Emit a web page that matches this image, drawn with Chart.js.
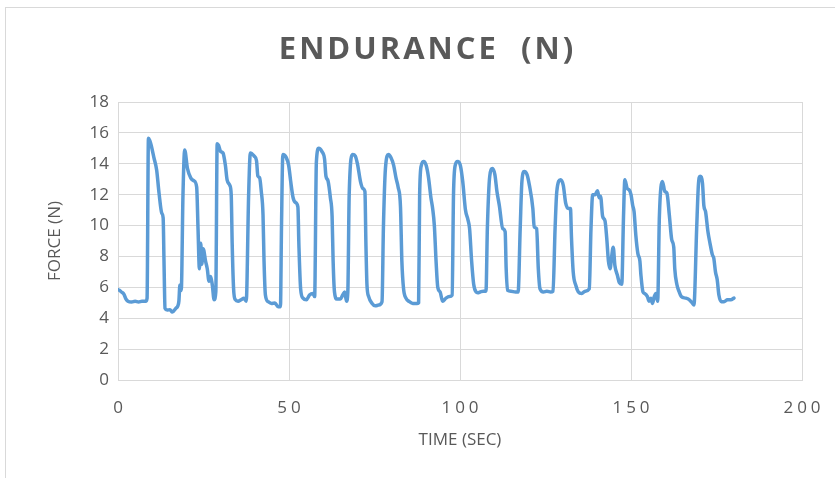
<!DOCTYPE html>
<html>
<head>
<meta charset="utf-8">
<script src="https://cdn.jsdelivr.net/npm/chart.js@4/dist/chart.umd.min.js"></script>
<style>
  html, body { margin: 0; padding: 0; background: #ffffff; }
  #c { display: block; }
</style>
</head>
<body>
<canvas id="c" width="835" height="478"></canvas>
<script>
// ---- data ----
const chartTitle = "ENDURANCE  (N)";
const xAxisTitle = "TIME (SEC)";
const yAxisTitle = "FORCE (N)";
const xTicks = [0, 50, 100, 150, 200];
const yTicks = [0, 2, 4, 6, 8, 10, 12, 14, 16, 18];

const timeSec = [
  0.0, 0.3, 1.0, 1.75, 2.3, 2.9, 4.0, 5.0, 6.0, 7.0, 8.1, 8.5,
  8.9, 9.3, 9.7, 10.5, 11.3, 12.0, 12.8, 13.2, 13.45, 13.75, 14.4, 15.2, 15.9, 16.9, 17.5, 17.8, 18.1, 18.5,
  19.0, 19.5, 20.3, 21.3, 22.2, 23.0, 23.4, 23.8, 24.2, 24.5, 24.9, 25.6, 26.1, 26.6, 27.1, 27.6, 28.1, 28.6,
  29.0, 29.4, 30.0, 30.7, 31.4, 31.9, 32.7, 33.1, 33.4, 33.8, 34.3, 35.1, 36.0, 36.8, 37.5,
  38.2, 38.7, 39.8, 40.5, 40.9, 41.4, 41.9, 42.4, 42.7, 43.1, 43.9, 44.9, 45.9, 46.8, 47.5,
  47.8, 48.2, 49.2, 49.9, 50.5, 51.2, 51.9, 52.6, 52.9, 53.4, 54.1, 55.1, 56.0, 57.0, 57.5,
  58.0, 58.7, 59.6, 60.4, 60.8, 61.4, 62.1, 62.6, 62.9, 63.3, 64.0, 65.0, 65.7, 66.3, 66.8, 67.2,
  67.6, 68.6, 69.4, 70.1, 70.9, 71.6, 72.2, 72.5, 72.8, 73.3, 74.3, 75.2, 76.2, 77.2,
  77.6, 78.2, 79.1, 79.8, 80.6, 81.3, 81.9, 82.6, 83.0, 83.5, 84.2, 85.2, 86.2, 87.4, 87.9,
  88.2, 88.7, 89.4, 90.1, 90.8, 91.5, 92.0, 92.5, 93.0, 93.5, 94.2, 94.9, 95.9, 96.9, 97.7,
  98.1, 98.6, 99.3, 100.1, 100.8, 101.6, 102.3, 102.8, 103.4, 104.0, 104.7, 105.2, 105.9, 106.8, 107.6,
  108.0, 108.7, 109.5, 110.2, 110.8, 111.5, 112.5, 113.2, 113.5, 113.9, 114.9, 116.2, 117.0,
  117.6, 118.1, 118.8, 119.6, 120.3, 121.3, 121.7, 122.4, 122.9, 123.4, 124.4, 125.4, 126.5, 127.2,
  127.8, 128.3, 129.4, 130.2, 130.9, 131.7, 132.3, 132.6, 133.1, 133.9, 134.6, 135.6, 136.6, 137.8,
  138.3, 138.8, 139.5, 140.2, 140.7, 141.1, 141.7, 142.4, 142.9, 143.4, 143.9, 144.3, 144.8, 145.3, 146.0, 146.6, 147.3,
  147.8, 148.2, 148.9, 149.5, 150.0, 150.5, 150.9, 151.4, 152.0, 152.6, 152.9, 153.5, 154.0, 154.8, 155.3, 155.8, 156.3, 156.8, 157.3, 157.8,
  158.3, 159.2, 159.9, 160.5, 161.2, 161.9, 162.5, 162.8, 163.4, 164.1, 164.7, 166.0, 167.0, 168.0, 168.4,
  169.2, 169.7, 170.2, 170.9, 171.3, 171.8, 172.5, 173.1, 173.8, 174.2, 174.7, 175.2, 175.7, 176.4, 177.2, 178.2, 179.2, 180.1
];

const forceN = [
  5.85, 5.82, 5.7, 5.55, 5.25, 5.1, 5.05, 5.1, 5.05, 5.1, 5.1, 5.3,
  15.66, 15.5, 15.2, 14.4, 13.6, 12.1, 10.8, 10.5, 7.7, 4.64, 4.53, 4.55, 4.4, 4.64, 4.8, 5.1, 6.15, 5.8,
  12.0, 14.9, 13.7, 13.07, 12.9, 12.5, 9.8, 7.2, 8.85, 7.5, 8.5, 7.7, 7.2, 6.4, 6.7, 6.1, 5.2, 5.7,
  15.3, 15.2, 14.8, 14.7, 13.9, 12.96, 12.6, 12.0, 8.7, 5.9, 5.2, 5.1, 5.2, 5.3, 5.1,
  12.0, 14.7, 14.5, 14.2, 13.2, 13.1, 12.2, 10.7, 7.7, 5.5, 5.07, 4.96, 4.98, 4.75, 4.75,
  9.8, 14.6, 14.4, 13.9, 12.85, 11.8, 11.5, 11.2, 8.7, 5.9, 5.3, 5.2, 5.5, 5.6, 5.4,
  14.1, 15.0, 14.8, 14.3, 13.2, 12.9, 11.8, 10.6, 7.7, 5.7, 5.24, 5.24, 5.5, 5.7, 5.1, 5.7,
  12.0, 14.6, 14.5, 13.9, 12.85, 12.4, 12.2, 8.7, 6.15, 5.4, 4.96, 4.8, 4.85, 5.07,
  9.8, 13.7, 14.6, 14.4, 13.9, 13.07, 12.5, 11.2, 7.7, 5.9, 5.3, 5.07, 4.96, 4.96, 5.0,
  12.0, 13.9, 14.15, 13.9, 13.1, 11.8, 11.1, 10.0, 7.7, 6.0, 5.7, 5.1, 5.3, 5.4, 5.5,
  12.0, 13.9, 14.15, 13.9, 12.85, 11.0, 10.4, 9.8, 7.7, 6.2, 5.7, 5.65, 5.7, 5.75, 5.75,
  9.8, 13.2, 13.7, 13.3, 12.2, 11.3, 9.8, 9.6, 7.2, 5.8, 5.75, 5.7, 5.7,
  9.8, 12.85, 13.5, 13.3, 12.6, 11.1, 9.9, 9.8, 7.2, 5.9, 5.7, 5.75, 5.7, 5.75,
  9.8, 12.2, 12.96, 12.6, 11.45, 11.1, 11.1, 9.2, 7.0, 6.1, 5.7, 5.6, 5.75, 5.9,
  9.8, 12.0, 12.0, 12.25, 11.8, 11.9, 10.6, 10.3, 9.2, 7.7, 7.2, 7.9, 8.6, 7.4, 6.8, 6.3, 6.2,
  10.5, 12.96, 12.4, 12.3, 12.0, 11.3, 10.9, 9.4, 8.2, 7.7, 6.8, 5.7, 5.6, 5.4, 5.1, 5.3, 4.96, 5.4, 5.6, 5.1,
  10.6, 12.85, 12.2, 12.1, 10.7, 9.1, 8.6, 7.2, 6.2, 5.7, 5.4, 5.3, 5.2, 4.96, 4.85,
  9.8, 12.6, 13.2, 12.75, 11.3, 10.9, 9.6, 8.85, 8.1, 7.9, 7.0, 6.5, 5.5, 5.07, 5.07, 5.2, 5.2, 5.3
];

// ---- presentation ----
const textGray = '#595959';
const gridGray = '#d9d9d9';
const lineBlue = '#5b9bd5';

const points = timeSec.map((t, i) => ({ x: t, y: forceN[i] }));

const decoPlugin = {
  id: 'deco',
  beforeDraw(chart) {
    const c = chart.ctx;
    c.save();
    c.fillStyle = '#ffffff';
    c.fillRect(0, 0, chart.width, chart.height);
    c.strokeStyle = gridGray;
    c.lineWidth = 1;
    c.strokeRect(5.5, 7.5, 900, 900);
    c.restore();
  },
  afterDraw(chart) {
    const c = chart.ctx;
    const xs = chart.scales.x;
    c.save();
    // title
    c.fillStyle = textGray;
    c.font = 'bold 31px "Open Sans"';
    c.textAlign = 'center';
    c.textBaseline = 'middle';
    c.letterSpacing = '3px';
    c.fillText(chartTitle, 426 + 1.5, 50);
    // x tick labels
    c.font = '17px "Open Sans"';
    c.letterSpacing = '4px';
    c.textBaseline = 'middle';
    xTicks.forEach(v => {
      c.fillText(String(v), xs.getPixelForValue(v) + 2, 408);
    });
    c.restore();
  }
};

new Chart(document.getElementById('c'), {
  type: 'line',
  data: {
    datasets: [{
      data: points,
      borderColor: lineBlue,
      borderWidth: 3.5,
      borderJoinStyle: 'round',
      borderCapStyle: 'round',
      pointRadius: 0,
      cubicInterpolationMode: 'monotone',
      fill: false
    }]
  },
  options: {
    responsive: false,
    animation: false,
    devicePixelRatio: 1,
    layout: { padding: { left: 0, right: 33, top: 102, bottom: 0 } },
    plugins: { legend: { display: false }, tooltip: { enabled: false }, title: { display: false } },
    scales: {
      x: {
        type: 'linear',
        min: 0, max: 200,
        afterBuildTicks(scale) { scale.ticks = xTicks.map(v => ({ value: v })); },
        afterFit(scale) { scale.height = 98; },
        grid: { color: gridGray, lineWidth: 1, drawTicks: false },
        border: { color: gridGray },
        ticks: { display: false },
        title: {
          display: true, text: xAxisTitle, color: textGray,
          font: { family: 'Open Sans', size: 17 },
          padding: { top: 0, bottom: 28 }
        }
      },
      y: {
        type: 'linear',
        min: 0, max: 18,
        afterBuildTicks(scale) { scale.ticks = yTicks.map(v => ({ value: v })); },
        afterFit(scale) { scale.width = 118; },
        grid: { color: gridGray, lineWidth: 1, drawTicks: false },
        border: { color: gridGray },
        ticks: {
          color: textGray, padding: 9,
          font: { family: 'Open Sans', size: 17 }
        },
        title: {
          display: true, text: yAxisTitle, color: textGray,
          font: { family: 'Open Sans', size: 17 },
          padding: { top: 45, bottom: 0 }
        }
      }
    }
  },
  plugins: [decoPlugin]
});
</script>
</body>
</html>
